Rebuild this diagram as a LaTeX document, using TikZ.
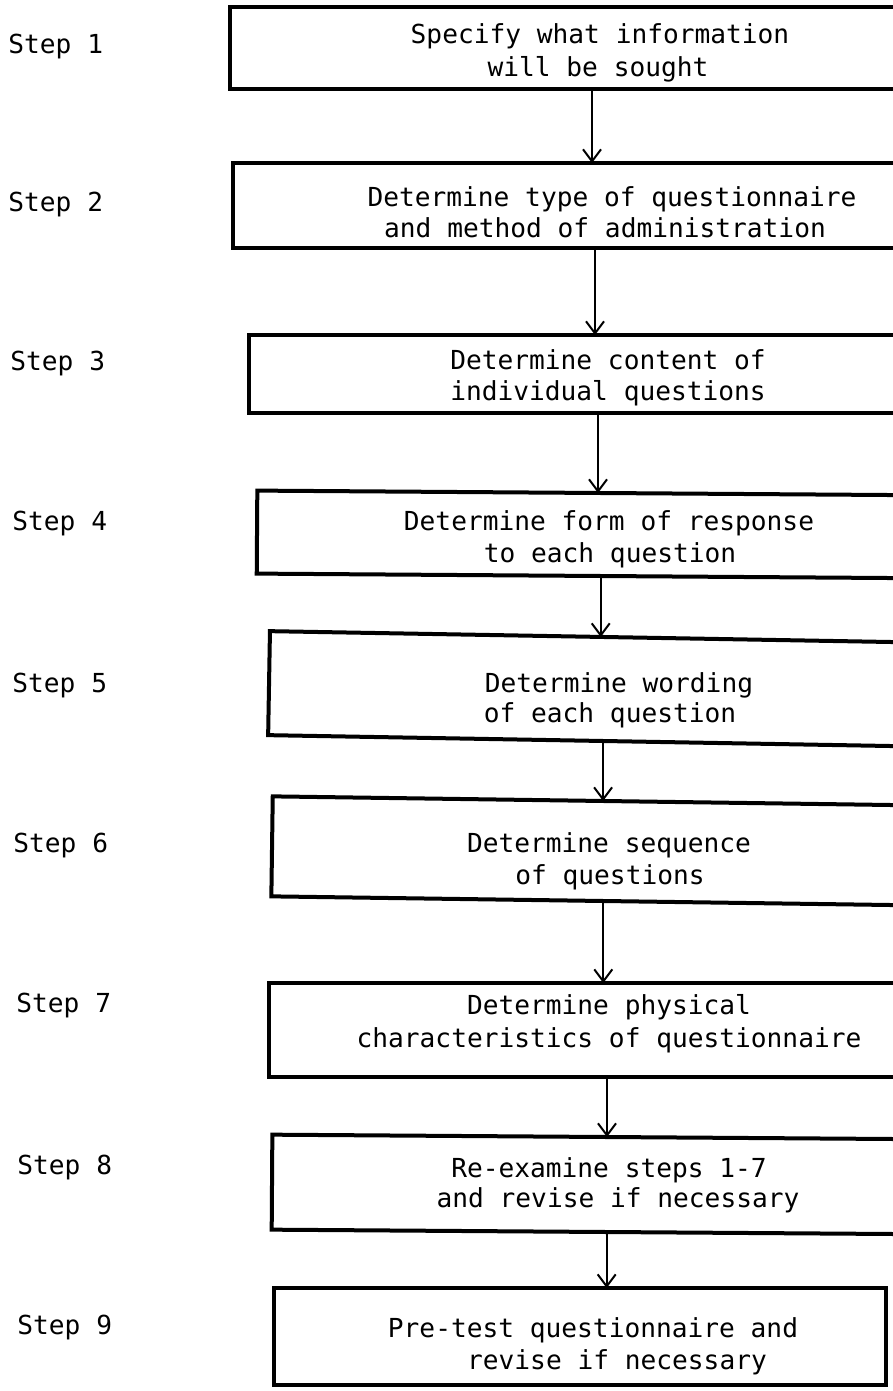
\documentclass[tikz,border=0pt]{standalone}
\usepackage{fontspec}
\setmonofont{DejaVu Sans Mono}
\usetikzlibrary{arrows.meta}
\begin{document}
\begin{tikzpicture}[x=0.5pt,y=-0.5pt,
  stepbox/.style={draw, line width=2pt, rectangle, inner sep=0pt, outer sep=0pt},
  typed/.style={font=\ttfamily\fontsize{13.1pt}{16pt}\selectfont, inner sep=0pt},
  steplabel/.style={typed, anchor=base west},
  boxline/.style={typed, anchor=base},
  flow/.style={line width=1pt, -{Straight Barb[length=6pt,width=9pt,line width=1pt]}}]
\useasboundingbox (0,0) rectangle (893,1391);
\clip (0,0) rectangle (893,1391);

% step boxes (right sides run off the page except the last)
\node[stepbox, minimum width=362pt, minimum height=41pt]   (b1) at (592,48) {};
\node[stepbox, minimum width=362pt, minimum height=42.5pt] (b2) at (595,205.5) {};
\node[stepbox, minimum width=349pt, minimum height=39pt]   (b3) at (598,374) {};
\node[stepbox, minimum width=344pt, minimum height=41.5pt, rotate=-0.4] (b4) at (601,534.5) {};
\node[stepbox, minimum width=335pt, minimum height=52pt, rotate=-1]     (b5) at (604,689) {};
\node[stepbox, minimum width=332pt, minimum height=50pt, rotate=-0.8]   (b6) at (604,851) {};
\node[stepbox, minimum width=338pt, minimum height=47pt]   (b7) at (607,1030) {};
\node[stepbox, minimum width=335pt, minimum height=47.5pt, rotate=-0.4] (b8) at (607,1184.5) {};
\node[stepbox, minimum width=306pt, minimum height=48.5pt] (b9) at (580,1336.5) {};

% step labels
\node[steplabel] (l1) at (8,54)   {Step 1};
\node[steplabel] (l2) at (8,212)  {Step 2};
\node[steplabel] (l3) at (10,370) {Step 3};
\node[steplabel] (l4) at (12,530) {Step 4};
\node[steplabel] (l5) at (12,692) {Step 5};
\node[steplabel] (l6) at (13,852) {Step 6};
\node[steplabel] (l7) at (16,1012) {Step 7};
\node[steplabel] (l8) at (17,1174) {Step 8};
\node[steplabel] (l9) at (17,1334) {Step 9};

% box texts
\node[boxline] (t1a) at (600,44)  {Specify what information};
\node[boxline] (t1b) at (598,77)  {will be sought};
\node[boxline] (t2a) at (612,207) {Determine type of questionnaire};
\node[boxline] (t2b) at (605,238) {and method of administration};
\node[boxline] (t3a) at (608,369) {Determine content of};
\node[boxline] (t3b) at (608,400) {individual questions};
\node[boxline] (t4a) at (609,530) {Determine form of response};
\node[boxline] (t4b) at (610,562) {to each question};
\node[boxline] (t5a) at (619,692) {Determine wording};
\node[boxline] (t5b) at (610,722) {of each question};
\node[boxline] (t6a) at (609,852) {Determine sequence};
\node[boxline] (t6b) at (610,884) {of questions};
\node[boxline] (t7a) at (609,1014) {Determine physical};
\node[boxline] (t7b) at (609,1047) {characteristics of questionnaire};
\node[boxline] (t8a) at (609,1177) {Re-examine steps 1-7};
\node[boxline] (t8b) at (618,1207) {and revise if necessary};
\node[boxline] (t9a) at (593,1337) {Pre-test questionnaire and};
\node[boxline] (t9b) at (617,1369) {revise if necessary};

% connectors
\draw[flow] (b1.south) -- (b1.south |- b2.north);
\draw[flow] (b2.south) -- (b2.south |- b3.north);
\draw[flow] (b3.south) -- (b3.south |- b4.north);
\draw[flow] (b4.south) -- (b4.south |- b5.north);
\draw[flow] (b5.south) -- (b5.south |- b6.north);
\draw[flow] (b6.south) -- (b6.south |- b7.north);
\draw[flow] (b7.south) -- (b7.south |- b8.north);
\draw[flow] (b8.south) -- (b8.south |- b9.north);
\end{tikzpicture}
\end{document}
